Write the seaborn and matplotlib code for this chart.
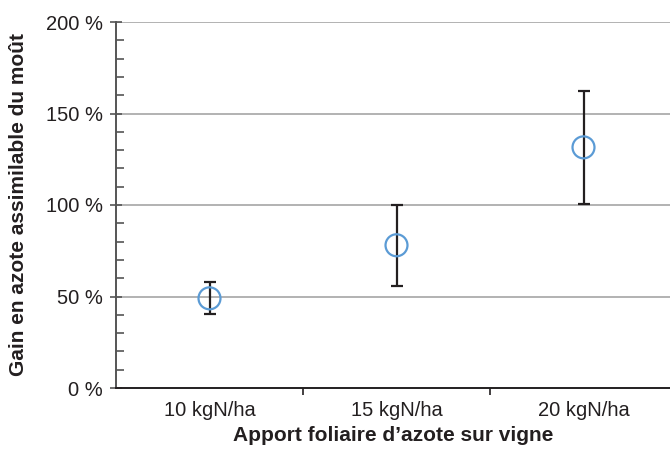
import matplotlib

matplotlib.use("Agg")
import matplotlib.pyplot as plt
import pandas as pd
import seaborn as sns
from matplotlib.ticker import FixedLocator, MultipleLocator, FuncFormatter

# Data
doses = ["10 kgN/ha", "15 kgN/ha", "20 kgN/ha"]
gain = [49, 78, 131.5]
err_low = [40.5, 56, 100.5]
err_high = [58, 100, 162.5]

df = pd.DataFrame({"dose": doses, "gain": gain})

sns.set_style("white")
plt.rcParams["font.family"] = ["Liberation Sans", "DejaVu Sans"]

fig = plt.figure(figsize=(6.7, 4.5), dpi=100)
ax = fig.add_axes([116 / 670, 1 - 388 / 450, 1 - 116 / 670, (388 - 22) / 450])

# gridlines
for v in [50, 100, 150, 200]:
    ax.axhline(v, color="#a6a6a6", lw=1.2, zorder=0)

x_pos = list(range(len(doses)))
yerr = [
    [g - lo for g, lo in zip(gain, err_low)],
    [hi - g for g, hi in zip(gain, err_high)],
]
ax.errorbar(
    x_pos, gain, yerr=yerr, fmt="none", ecolor="#231f20",
    elinewidth=1.6, capsize=4.5, capthick=1.6, zorder=2,
)
sns.scatterplot(
    x=x_pos, y=df["gain"], ax=ax, marker="o", s=250,
    facecolors="none", edgecolor="#5b9bd5", linewidth=1.6, zorder=3,
)

ax.set_xlim(-0.5, -0.5 + (670 - 116) / 187)
ax.set_ylim(0, 200)

ax.set_xticks(x_pos)
ax.set_xticklabels(doses)
ax.xaxis.set_minor_locator(FixedLocator([0.5, 1.5]))
ax.tick_params(axis="x", which="major", bottom=True, length=0, pad=9,
               labelsize=14.5, colors="#231f20")
ax.tick_params(axis="x", which="minor", bottom=True, length=5, width=1.2,
               direction="out", color="#231f20")

ax.yaxis.set_major_locator(MultipleLocator(50))
ax.yaxis.set_minor_locator(MultipleLocator(10))
ax.yaxis.set_major_formatter(FuncFormatter(lambda v, p: f"{int(v)} %"))
ax.tick_params(axis="y", which="major", left=True, length=9, width=1.2,
               direction="inout", labelsize=14.5, labelcolor="#231f20",
               color="#555555", pad=5)
ax.tick_params(axis="y", which="minor", left=True, length=6, width=1.2,
               direction="in", color="#555555")

for side in ["top", "right"]:
    ax.spines[side].set_visible(False)
ax.spines["left"].set_color("#555555")
ax.spines["left"].set_linewidth(1.4)
ax.spines["bottom"].set_color("#231f20")
ax.spines["bottom"].set_linewidth(1.4)

ax.set_xlabel("Apport foliaire d\u2019azote sur vigne", fontsize=15, fontweight="bold",
              color="#231f20", labelpad=5)
ax.set_ylabel("Gain en azote assimilable du mo\u00fbt", fontsize=15, fontweight="bold",
              color="#231f20")
ax.yaxis.set_label_coords((28 - 116) / 554, 0.5)

fig.savefig("out.png", dpi=100)
